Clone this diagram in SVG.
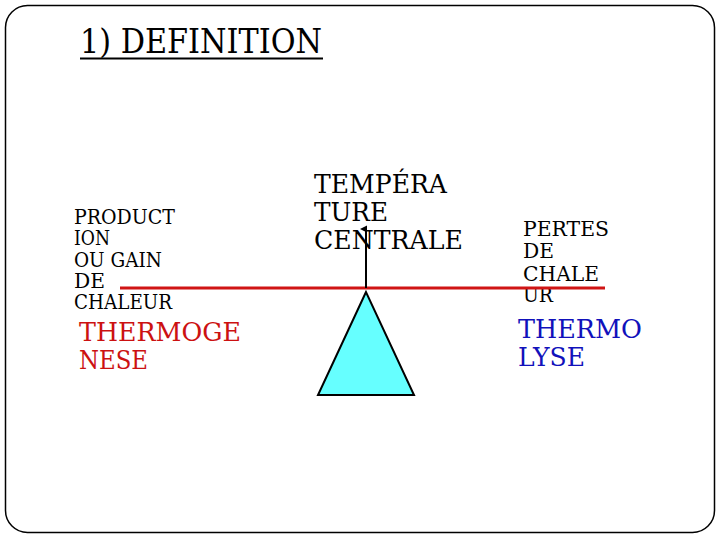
<svg xmlns="http://www.w3.org/2000/svg" width="720" height="540" viewBox="0 0 720 540">
<defs>
<style>
.sm{font-size:19.5px;fill:#000;}
.big{font-size:25.5px;fill:#000;}
.red{font-size:25.5px;fill:#cc1111;}
.blue{font-size:25.5px;fill:#1111bb;}
</style>
<marker id="ah" markerWidth="8" markerHeight="8" refX="3.5" refY="6" orient="auto" markerUnits="userSpaceOnUse">
<path d="M0,7 L3.5,0 L7,7 Z" fill="#000"/>
</marker>
</defs>
<rect x="0" y="0" width="720" height="540" fill="#fff"/>
<rect id="frame" x="5.5" y="5.5" width="709" height="527" rx="22" ry="22" fill="none" stroke="#000" stroke-width="1.5"/>
<g font-family="DejaVu Serif, Liberation Serif, serif">
<g id="title">
<text x="80" y="53" font-size="33" fill="#000" textLength="242" lengthAdjust="spacingAndGlyphs">1) DEFINITION</text>
<line x1="80" y1="58.5" x2="323" y2="58.5" stroke="#000" stroke-width="2.2"/>
</g>
<g id="production">
<text class="sm" x="74" y="224" textLength="101" lengthAdjust="spacingAndGlyphs">PRODUCT</text>
<text class="sm" x="74" y="245" textLength="36" lengthAdjust="spacingAndGlyphs">ION</text>
<text class="sm" x="74" y="267" textLength="88" lengthAdjust="spacingAndGlyphs">OU GAIN</text>
<text class="sm" x="74" y="288" textLength="31" lengthAdjust="spacingAndGlyphs">DE</text>
<text class="sm" x="74" y="309" textLength="98" lengthAdjust="spacingAndGlyphs">CHALEUR</text>
</g>
<g id="thermogenese">
<text class="red" x="79" y="341" textLength="162" lengthAdjust="spacingAndGlyphs">THERMOGE</text>
<text class="red" x="79" y="369" textLength="69" lengthAdjust="spacingAndGlyphs">NESE</text>
</g>
<g id="temperature">
<text class="big" x="314" y="193" textLength="133" lengthAdjust="spacingAndGlyphs">TEMPÉRA</text>
<text class="big" x="314" y="221" textLength="74" lengthAdjust="spacingAndGlyphs">TURE</text>
<text class="big" x="314" y="249" textLength="149" lengthAdjust="spacingAndGlyphs">CENTRALE</text>
</g>
<g id="pertes">
<text class="sm" x="523" y="236" textLength="86" lengthAdjust="spacingAndGlyphs">PERTES</text>
<text class="sm" x="523" y="258" textLength="31" lengthAdjust="spacingAndGlyphs">DE</text>
<text class="sm" x="523" y="281" textLength="76" lengthAdjust="spacingAndGlyphs">CHALE</text>
<text class="sm" x="523" y="302" textLength="30" lengthAdjust="spacingAndGlyphs">UR</text>
</g>
<g id="thermolyse">
<text class="blue" x="518" y="338" textLength="124" lengthAdjust="spacingAndGlyphs">THERMO</text>
<text class="blue" x="518" y="366" textLength="67" lengthAdjust="spacingAndGlyphs">LYSE</text>
</g>
</g>
<g id="fulcrum">
<polygon points="366,292 318,395 414,395" fill="#66ffff" stroke="#000" stroke-width="2"/>
</g>
<g id="connectors">
<line x1="120" y1="288" x2="605" y2="288" stroke="#d01515" stroke-width="3"/>
<line x1="366" y1="288" x2="366" y2="229" stroke="#000" stroke-width="2" marker-end="url(#ah)"/>
</g>
</svg>
